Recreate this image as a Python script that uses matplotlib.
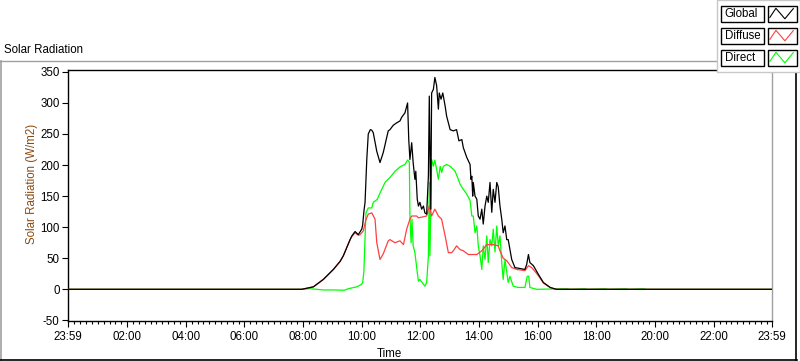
import numpy as np
import matplotlib
matplotlib.use("Agg")
import matplotlib.pyplot as plt
from matplotlib.patches import Rectangle
from matplotlib.lines import Line2D
from matplotlib.ticker import FixedLocator

plt.rcParams['font.family'] = ['Liberation Sans', 'DejaVu Sans']

# ---------------- data (time in decimal hours, W/m2) ----------------
global_t = [-0.017, 7.95, 8.35, 8.69, 9.03, 9.26, 9.37, 9.60, 9.66, 9.77, 9.88, 10.00, 10.03,
            10.07, 10.11, 10.17, 10.22, 10.29, 10.34, 10.39, 10.51, 10.62, 10.73, 10.90, 10.96,
            11.07, 11.19, 11.30, 11.36, 11.47, 11.56, 11.60, 11.64, 11.70, 11.75, 11.81, 11.84,
            11.89, 11.93, 11.98, 12.04, 12.10, 12.15, 12.21, 12.27, 12.30, 12.35, 12.38, 12.44,
            12.49, 12.55, 12.61, 12.64, 12.70, 12.76, 12.84, 12.89, 13.01, 13.12, 13.23, 13.31,
            13.41, 13.46, 13.58, 13.69, 13.72, 13.75, 13.78, 13.80, 13.86, 13.92, 13.97, 14.03,
            14.09, 14.14, 14.20, 14.26, 14.31, 14.37, 14.43, 14.48, 14.54, 14.60, 14.65, 14.71,
            14.77, 14.82, 14.88, 14.94, 14.99, 15.05, 15.11, 15.22, 15.56, 15.62, 15.68, 15.73,
            15.85, 16.02, 16.19, 16.42, 16.64, 23.983]
global_v = [0, 0, 4, 16, 32, 45, 54, 80, 86, 93, 88, 97, 104,
            125, 140, 210, 250, 257, 256, 252, 222, 204, 220, 255, 257,
            264, 268, 271, 277, 284, 300, 241, 209, 236, 204, 177, 190,
            145, 134, 140, 129, 134, 123, 121, 183, 311, 129, 316, 322,
            341, 328, 290, 316, 306, 316, 295, 279, 257, 255, 257, 239,
            241, 228, 212, 201, 177, 182, 150, 172, 150, 145, 118, 113,
            129, 105, 134, 150, 140, 172, 124, 161, 140, 172, 165, 134,
            113, 91, 102, 80, 80, 64, 48, 35, 32, 40, 56, 43,
            38, 24, 11, 3, 0, 0]

diffuse_t = [-0.017, 7.95, 8.35, 8.69, 9.03, 9.26, 9.37, 9.60, 9.66, 9.77, 9.88, 9.94, 10.05,
             10.14, 10.22, 10.34, 10.45, 10.51, 10.62, 10.73, 10.90, 10.96, 11.13, 11.30, 11.42,
             11.53, 11.64, 11.70, 11.87, 11.93, 12.21, 12.30, 12.38, 12.49, 12.61, 12.72, 12.84,
             12.95, 13.06, 13.12, 13.23, 13.35, 13.46, 13.63, 13.92, 14.09, 14.26, 14.48, 14.65,
             14.71, 14.82, 14.94, 15.11, 15.28, 15.56, 15.68, 15.79, 15.90, 16.02, 16.19, 16.42,
             16.60, 23.983]
diffuse_v = [0, 0, 4, 16, 32, 45, 54, 80, 85, 91, 87, 88, 94,
             112, 121, 123, 113, 75, 48, 57, 78, 80, 75, 78, 72,
             97, 113, 118, 118, 115, 118, 134, 118, 129, 118, 113, 86,
             59, 59, 62, 70, 64, 62, 56, 56, 62, 72, 72, 70,
             62, 50, 46, 35, 32, 30, 38, 35, 29, 22, 10, 3,
             0, 0]

direct_t = [-0.017, 7.95, 8.23, 8.69, 9.03, 9.40, 9.54, 9.83, 9.99, 10.03, 10.07, 10.14, 10.19,
            10.22, 10.34, 10.39, 10.45, 10.53, 10.62, 10.79, 10.96, 11.13, 11.30, 11.47, 11.56,
            11.62, 11.64, 11.68, 11.71, 11.75, 11.81, 11.85, 11.89, 11.93, 11.98, 12.04, 12.15,
            12.21, 12.27, 12.30, 12.32, 12.36, 12.38, 12.44, 12.49, 12.55, 12.61, 12.67, 12.72,
            12.78, 12.89, 13.01, 13.12, 13.18, 13.29, 13.35, 13.46, 13.58, 13.69, 13.75, 13.80,
            13.86, 13.92, 13.97, 14.03, 14.09, 14.14, 14.20, 14.26, 14.31, 14.37, 14.43, 14.48,
            14.54, 14.60, 14.65, 14.71, 14.77, 14.82, 14.88, 14.99, 15.05, 15.16, 15.33, 15.56,
            15.64, 15.69, 15.73, 15.96, 17.00, 17.10, 17.60, 17.70, 18.30, 18.40, 19.00, 19.10,
            19.60, 19.70, 23.983]
direct_v = [0, 0, 1, -1, -1, -1.5, 1, 4, 8, 11, 29, 123, 128,
            131, 131, 140, 142, 145, 155, 172, 180, 190, 197, 201, 208,
            205, 118, 75, 113, 70, 59, 43, 27, 13, 16, 12, 5,
            11, 54, 172, 54, 145, 209, 198, 208, 193, 177, 198, 188,
            198, 201, 198, 193, 190, 177, 169, 161, 153, 143, 118, 118,
            91, 102, 70, 54, 32, 70, 48, 86, 43, 80, 70, 97,
            60, 102, 70, 86, 43, 16, 48, 11, 21, 5, 3, 3,
            21, 21, 3, 0, 1, 0, 1, 0, 1, 0, 1, 0,
            1, 0, 0]

series_names = ["Global", "Diffuse", "Direct"]
series_colors = ["#000000", "#ff4040", "#00ff00"]

x_tick_labels = ["23:59", "02:00", "04:00", "06:00", "08:00", "10:00", "12:00",
                 "14:00", "16:00", "18:00", "20:00", "22:00", "23:59"]
x_tick_pos = [-1/60] + list(range(2, 24, 2)) + [24 - 1/60]
y_ticks = [-50, 0, 50, 100, 150, 200, 250, 300, 350]

# ---------------- figure ----------------
W, H = 800, 361
fig = plt.figure(figsize=(W/100, H/100), dpi=100)
fig.patch.set_facecolor("white")

def fx(px):
    return px / W

def fy(py):
    return 1 - py / H

ax_l, ax_r, ax_t, ax_b = 68, 772, 70, 321
ax = fig.add_axes([fx(ax_l), fy(ax_b), (ax_r - ax_l)/W, (ax_b - ax_t)/H])
ax.set_facecolor("white")

lw = 0.9
ax.plot(direct_t, direct_v, color=series_colors[2], lw=lw, zorder=2)
ax.plot(diffuse_t, diffuse_v, color=series_colors[1], lw=lw, zorder=3)
ax.plot(global_t, global_v, color=series_colors[0], lw=lw, zorder=4)

ax.set_xlim(-1/60, 24 - 1/60)
ax.set_ylim(-51, 353)

ax.set_xticks(x_tick_pos)
ax.set_xticklabels(x_tick_labels)
ax.xaxis.set_minor_locator(FixedLocator([round(v, 2) for v in np.arange(0.2, 24, 0.2)]))
ax.set_yticks(y_ticks)
ax.set_yticklabels([str(v) for v in y_ticks])

ax.tick_params(axis='x', which='major', direction='out', length=4.5, width=0.8,
               pad=2.5, labelsize=8.3, colors='black')
ax.tick_params(axis='x', which='minor', direction='out', length=2.5, width=0.8)
ax.tick_params(axis='y', which='major', direction='out', length=4.5, width=0.8,
               pad=1.5, labelsize=8.3, colors='black')

for s in ['left', 'top', 'bottom']:
    ax.spines[s].set_color('black')
    ax.spines[s].set_linewidth(1.0)
ax.spines['right'].set_color('#a0a0a0')
ax.spines['right'].set_linewidth(1.0)

# axis labels
fig.text(fx(31.5), fy(183.5), "Solar Radiation (W/m2)", rotation=90,
         ha='center', va='center', fontsize=8.3, color='#8a4a10')
fig.text(fx(389), fy(354), "Time", ha='center', va='center', fontsize=8.3, color='black')

# title
fig.text(fx(4), fy(50), "Solar Radiation", ha='left', va='center', fontsize=8.3, color='black')

# outer frame of the graph
fig.add_artist(Line2D([fx(0), fx(717)], [fy(61), fy(61)], color='#a0a0a0', lw=1.0))
fig.add_artist(Line2D([fx(0.8), fx(0.8)], [fy(61), fy(360)], color='#a0a0a0', lw=1.2))
fig.add_artist(Line2D([fx(0), fx(797)], [fy(359.6), fy(359.6)], color='black', lw=1.2))
fig.add_artist(Line2D([fx(796), fx(796)], [fy(72), fy(360)], color='black', lw=1.2))

# legend
fig.add_artist(Rectangle((fx(716.5), fy(72)), fx(800 - 716.5), 72/H,
                         transform=fig.transFigure, facecolor='white',
                         edgecolor='#c8c8c8', lw=1.0, zorder=10))
row_tops = [6.5, 28.5, 50.5]
box_h = 15
for name, col, top in zip(series_names, series_colors, row_tops):
    fig.add_artist(Rectangle((fx(721), fy(top + box_h)), fx(763.5 - 721), box_h/H,
                             transform=fig.transFigure, facecolor='white',
                             edgecolor='black', lw=1.0, zorder=11))
    fig.text(fx(724.5), fy(top + box_h/2 + 0.3), name, ha='left', va='center',
             fontsize=8.3, color='black', zorder=12)
    bx0, bx1 = 767.5, 796.5
    fig.add_artist(Rectangle((fx(bx0), fy(top + box_h)), fx(bx1 - bx0), box_h/H,
                             transform=fig.transFigure, facecolor='white',
                             edgecolor='black', lw=1.0, zorder=11))
    rel = [(0.08, 0.27), (0.29, 0.88), (0.60, 0.18), (0.89, 0.86)]
    xs = [fx(bx0 + r[0]*(bx1 - bx0)) for r in rel]
    ys = [fy(top + box_h - r[1]*box_h) for r in rel]
    fig.add_artist(Line2D(xs, ys, color=col, lw=0.8, zorder=12))

fig.savefig("out.png", dpi=100, facecolor="white")
